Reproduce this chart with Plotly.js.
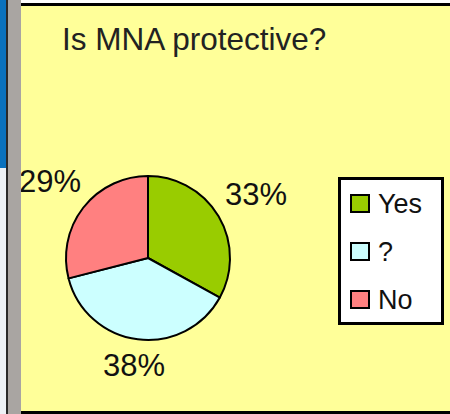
<!DOCTYPE html>
<html>
<head>
<meta charset="utf-8">
<script src="https://cdn.plot.ly/plotly-3.0.1.min.js"></script>
<style>
html,body{margin:0;padding:0;background:#ffffff;}
#wrap{position:relative;width:450px;height:414px;overflow:hidden;}
#chart{position:absolute;left:0;top:0;width:450px;height:414px;}
.strip{position:absolute;top:0;bottom:0;}
</style>
</head>
<body>
<div id="wrap">
<div id="chart"></div>
<div class="strip" style="left:0;width:6px;top:0;height:168px;background:#0A72BE;"></div>
<div class="strip" style="left:0;width:6px;top:168px;background:#EEF2F6;"></div>
<div class="strip" style="left:6px;width:2px;background:#2A2A2A;"></div>
<div class="strip" style="left:8px;width:13px;background:#A9A5A2;"></div>
</div>
<script>
var labels = ["Yes", "?", "No"];
var values = [33, 38, 29];
var colors = ["#99CC00", "#CCFFFF", "#FF8080"];
var titleText = "Is MNA protective?";

var W = 450, H = 414;
function px(x){ return x / W; }
function py(y){ return 1 - y / H; }
var FONT = "Liberation Sans, Arial, sans-serif";

var trace = {
  type: "pie",
  labels: labels,
  values: values,
  sort: false,
  direction: "clockwise",
  rotation: 0,
  marker: { colors: colors, line: { color: "#000000", width: 2 } },
  textinfo: "none",
  domain: { x: [px(66), px(230)], y: [py(340), py(176)] },
  hoverinfo: "none",
  showlegend: false,
  automargin: false
};

// manual legend built from labels / colors
var shapes = [
  { type: "rect", xref: "paper", yref: "paper", x0: 0, x1: 1, y0: py(3), y1: 1, fillcolor: "#FFFFFF", line: { width: 0 }, layer: "above" },
  { type: "rect", xref: "paper", yref: "paper", x0: px(21), x1: 1, y0: py(6), y1: py(3), fillcolor: "#000000", line: { width: 0 }, layer: "above" },
  { type: "rect", xref: "paper", yref: "paper", x0: px(21), x1: 1, y0: 0, y1: py(411), fillcolor: "#000000", line: { width: 0 }, layer: "above" },
  { type: "rect", xref: "paper", yref: "paper", x0: px(339.5), x1: px(442.5), y0: py(323.5), y1: py(178.5), fillcolor: "#FFFFFF", line: { color: "#000000", width: 3 }, layer: "above" }
];
var annotations = [];
var legTop = 203, legStep = 48;
labels.forEach(function(lab, i){
  var cy = legTop + i * legStep;
  shapes.push({ type: "rect", xref: "paper", yref: "paper",
    x0: px(351), x1: px(369), y0: py(cy + 9), y1: py(cy - 8),
    fillcolor: colors[i], line: { color: "#000000", width: 2 }, layer: "above" });
  annotations.push({ xref: "paper", yref: "paper", x: px(376), y: py(cy + 1),
    xanchor: "left", yanchor: "middle", showarrow: false, text: lab,
    font: { family: FONT, size: 27, color: "#111111" } });
});

var layout = {
  width: W, height: H,
  margin: { l: 0, r: 0, t: 0, b: 0 },
  paper_bgcolor: "#FFFF99",
  plot_bgcolor: "#FFFF99",
  title: {
    text: titleText,
    x: px(62), xanchor: "left", xref: "paper",
    y: py(39), yanchor: "middle", yref: "paper",
    font: { family: FONT, size: 31.5, color: "#222222" }
  },
  showlegend: false,
  shapes: shapes,
  annotations: annotations
};

var gd = document.getElementById("chart");
Plotly.newPlot(gd, [trace], layout, { displayModeBar: false, staticPlot: true }).then(function(){
  // percentage labels placed outside each slice, using the pie geometry Plotly computed
  var cd0 = gd.calcdata[0][0];
  var cx = cd0.cx, cy = cd0.cy, r = cd0.r;
  var total = values.reduce(function(a, b){ return a + b; }, 0);
  var cum = 0, gap = 10, hw = 32, hh = 12;
  var extra = annotations.slice();
  values.forEach(function(v){
    var mid = (cum + v / 2) / total;
    cum += v;
    var th = 2 * Math.PI * mid;
    var dx = Math.sin(th), dy = -Math.cos(th);
    var d = r + gap + Math.abs(hw * dx) + Math.abs(hh * dy);
    var lx = cx + d * dx, ly = cy + d * dy;
    extra.push({ xref: "paper", yref: "paper", x: lx / W, y: 1 - ly / H,
      xanchor: "center", yanchor: "middle", showarrow: false,
      text: Math.round(100 * v / total) + "%",
      font: { family: FONT, size: 31, color: "#111111" } });
  });
  return Plotly.relayout(gd, { annotations: extra });
});
</script>
</body>
</html>
